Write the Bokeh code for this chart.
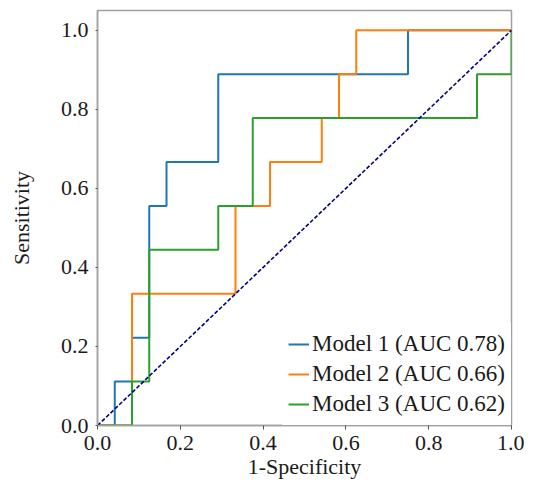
from bokeh.plotting import figure
from bokeh.models import Range1d, FixedTicker, NumeralTickFormatter, Legend, LegendItem
from bokeh.embed import file_html
from bokeh.resources import INLINE

# ---- data (ROC points) ----
tick_values = [0.0, 0.2, 0.4, 0.6, 0.8, 1.0]

model_labels = ["Model 1 (AUC 0.78)", "Model 2 (AUC 0.66)", "Model 3 (AUC 0.62)"]

fpr1 = [0, 0.0417, 0.0417, 0.0833, 0.0833, 0.125, 0.125, 0.1667, 0.1667, 0.2917, 0.2917, 0.75, 0.75, 1.0]
tpr1 = [0, 0, 0.1111, 0.1111, 0.2222, 0.2222, 0.5556, 0.5556, 0.6667, 0.6667, 0.8889, 0.8889, 1.0, 1.0]

fpr2 = [0, 0.0833, 0.0833, 0.3333, 0.3333, 0.4167, 0.4167, 0.5417, 0.5417, 0.5833, 0.5833, 0.625, 0.625, 1.0]
tpr2 = [0, 0, 0.3333, 0.3333, 0.5556, 0.5556, 0.6667, 0.6667, 0.7778, 0.7778, 0.8889, 0.8889, 1.0, 1.0]

fpr3 = [0, 0.0833, 0.0833, 0.125, 0.125, 0.2917, 0.2917, 0.375, 0.375, 0.9167, 0.9167, 1.0, 1.0]
tpr3 = [0, 0, 0.1111, 0.1111, 0.4444, 0.4444, 0.5556, 0.5556, 0.7778, 0.7778, 0.8889, 0.8889, 1.0]

chance_x = [0.0, 1.0]
chance_y = [0.0, 1.0]

# ---- styles ----
FONT = "Liberation Serif"
colors = ["#1f77b4", "#ff7f0e", "#2ca02c"]

p = figure(width=524, height=481, output_backend="svg", toolbar_location=None,
           x_range=Range1d(0, 1), y_range=Range1d(0, 1.05),
           min_border_left=97, min_border_right=13, min_border_top=10, min_border_bottom=0,
           background_fill_color="white", border_fill_color="white")

p.xgrid.visible = False
p.ygrid.visible = False
p.outline_line_color = "#a0a0a0"
p.outline_line_width = 1.5
p.outline_line_alpha = 1.0

renderers = []
for fx, ty, c in zip([fpr1, fpr2, fpr3], [tpr1, tpr2, tpr3], colors):
    r = p.line(fx, ty, line_color=c, line_width=2)
    renderers.append(r)

p.line(chance_x, chance_y, line_color="navy", line_width=1.6, line_dash="4 2")

for ax in (p.xaxis[0], p.yaxis[0]):
    ax.ticker = FixedTicker(ticks=tick_values)
    ax.formatter = NumeralTickFormatter(format="0.0")
    ax.major_label_text_font = FONT
    ax.major_label_text_font_size = "22px"
    ax.major_label_text_color = "#1a1a1a"
    ax.axis_label_text_font = FONT
    ax.axis_label_text_font_size = "22px"
    ax.axis_label_text_font_style = "normal"
    ax.axis_label_text_color = "#1a1a1a"
    ax.axis_line_color = "#a0a0a0"
    ax.axis_line_width = 1.5
    ax.major_tick_line_color = "#555555"
    ax.major_tick_in = 0
    ax.minor_tick_line_color = None

p.xaxis.axis_label = "1-Specificity"
p.xaxis.major_tick_out = 4
p.xaxis.major_label_standoff = 6
p.xaxis.axis_label_standoff = 1

p.yaxis.axis_label = "Sensitivity"
p.yaxis.major_tick_out = 2
p.yaxis.major_label_standoff = 7
p.yaxis.axis_label_standoff = 24

legend = Legend(items=[LegendItem(label=lab, renderers=[r]) for lab, r in zip(model_labels, renderers)],
                location="bottom_right", margin=0, padding=6, spacing=0,
                glyph_width=21, glyph_height=30, label_height=30, label_standoff=3,
                label_text_font=FONT, label_text_font_size="23px", label_text_color="#1a1a1a",
                border_line_alpha=0, background_fill_color="white", background_fill_alpha=1.0)
p.add_layout(legend)

open("out.html", "w").write(file_html(p, INLINE))
